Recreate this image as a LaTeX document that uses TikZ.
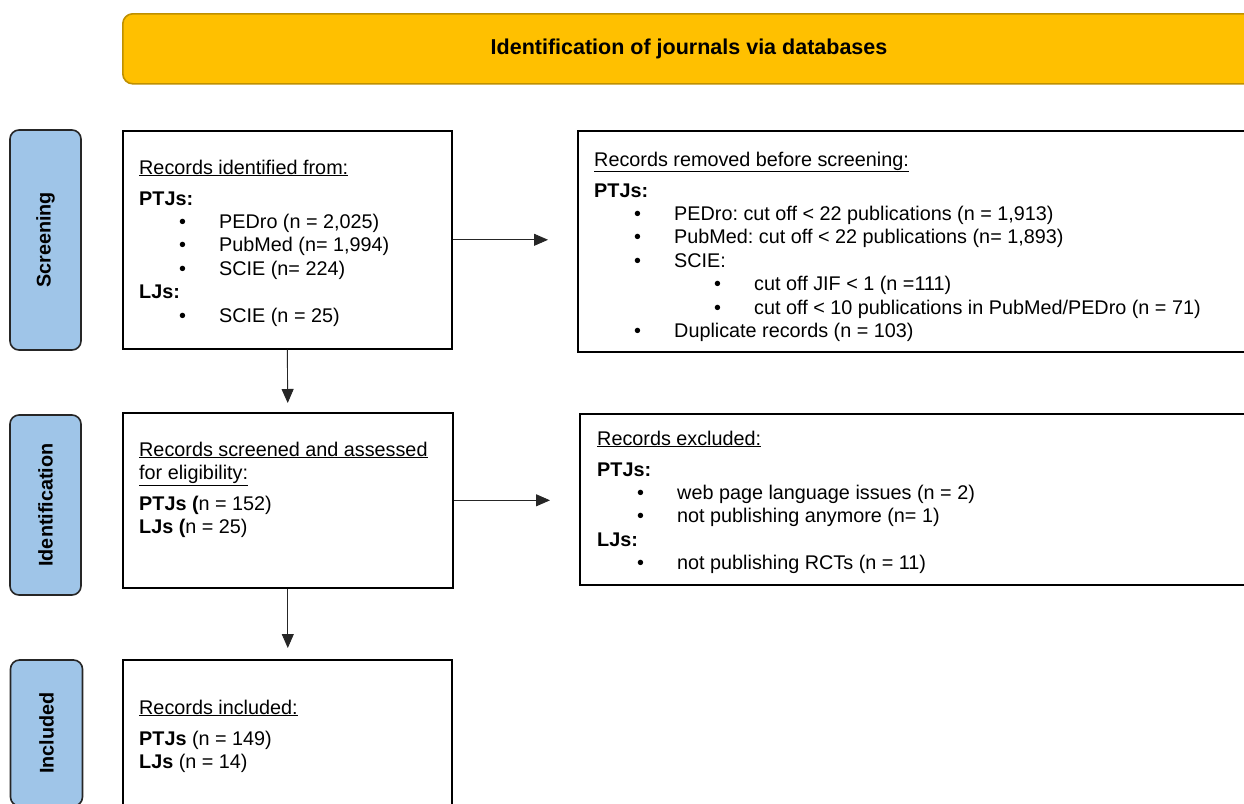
\documentclass[tikz,border=0pt]{standalone}
\usepackage{fontspec}
\setmainfont{Liberation Sans}
\usetikzlibrary{positioning,arrows.meta}

\definecolor{bannerfill}{HTML}{FFC000}
\definecolor{bannerline}{HTML}{BF9000}
\definecolor{stagefill}{HTML}{9FC5E8}

\frenchspacing
\newcommand{\itm}[1]{\hspace*{40pt}\makebox[40pt][l]{\textbullet}#1}
\newcommand{\subitm}[1]{\hspace*{120pt}\makebox[40pt][l]{\textbullet}#1}

\tikzset{
  box/.style={draw=black, line width=1.6pt, anchor=north west, inner sep=0pt},
  banner/.style={draw=bannerline, line width=1.6pt, fill=bannerfill, rounded corners=10pt,
    anchor=north west, inner sep=0pt},
  stage/.style={draw=black!85, line width=1.6pt, fill=stagefill, rounded corners=9pt,
    rotate=90, inner sep=0pt, font=\fontsize{19.8}{22}\selectfont\bfseries},
  boxtxt/.style={anchor=north west, inner sep=0pt, align=left,
    font=\fontsize{19.8}{23.4}\selectfont},
  arr/.style={draw=black!85, line width=0.9pt, -{Triangle[length=14pt,width=12pt]}}
}

\begin{document}
\begin{tikzpicture}[x=1pt, y=-1pt]
  \clip (0,0) rectangle (1244,803);
  \fill[white] (0,0) rectangle (1244,803);

  % banner
  \node[banner, minimum width=1134pt, minimum height=70pt] (banner) at (122,13) {};
  \node[font=\fontsize{21.5}{24}\selectfont\bfseries] (title) at (689,49) {Identification of journals via databases};

  % stages
  \node[stage, minimum width=220pt, minimum height=71pt] (screen) at (45.5,240) {Screening};
  \node[stage, minimum width=180pt, minimum height=71pt] (ident) at (45.5,505) {Identification};
  \node[stage, minimum width=146pt, minimum height=72pt] (incl) at (46.5,733) {Included};

  % boxes
  \node[box, minimum width=329pt, minimum height=218pt] (box1) at (122,130) {};
  \node[box, minimum width=690pt, minimum height=221pt] (box2) at (577,130) {};
  \node[box, minimum width=330pt, minimum height=175pt] (box3) at (122,412) {};
  \node[box, minimum width=690pt, minimum height=171pt] (box4) at (579,413) {};
  \node[box, minimum width=329pt, minimum height=180pt] (box5) at (122,659) {};

  \node[boxtxt] (box1txt) at (139,159.5) {\underline{Records identified from:}\\[7.6pt]
    \textbf{PTJs:}\\
    \itm{PEDro (n = 2,025)}\\
    \itm{PubMed (n= 1,994)}\\
    \itm{SCIE (n= 224)}\\
    \textbf{LJs:}\\
    \itm{SCIE (n = 25)}};

  \node[boxtxt] (box2txt) at (594,151.5) {\underline{Records removed before screening:}\\[7.6pt]
    \textbf{PTJs:}\\
    \itm{PEDro: cut off < 22 publications (n = 1,913)}\\
    \itm{PubMed: cut off < 22 publications (n= 1,893)}\\
    \itm{SCIE:}\\
    \subitm{cut off JIF < 1 (n =111)}\\
    \subitm{cut off < 10 publications in PubMed/PEDro (n = 71)}\\
    \itm{Duplicate records (n = 103)}};

  \node[boxtxt] (box3txt) at (139,441.5) {\underline{Records screened and assessed}\\
    \underline{for eligibility:}\\[7.6pt]
    \textbf{PTJs (}n = 152)\\
    \textbf{LJs (}n = 25)};

  \node[boxtxt] (box4txt) at (597,430.5) {\underline{Records excluded:}\\[7.6pt]
    \textbf{PTJs:}\\
    \itm{web page language issues (n = 2)}\\
    \itm{not publishing anymore (n= 1)}\\
    \textbf{LJs:}\\
    \itm{not publishing RCTs (n = 11)}};

  \node[boxtxt] (box5txt) at (139,699.5) {\underline{Records included:}\\[7.6pt]
    \textbf{PTJs} (n = 149)\\
    \textbf{LJs} (n = 14)};

  % arrows
  \draw[arr, shorten >=29pt] (box1.east) -- (box1.east -| box2.west);
  \draw[arr, shorten >=9pt] (box1.south) -- (box3.north);
  \draw[arr, shorten >=29pt] (box3.east) -- (box3.east -| box4.west);
  \draw[arr, shorten >=11pt] (box3.south) -- (box3.south |- box5.north);
\end{tikzpicture}
\end{document}
